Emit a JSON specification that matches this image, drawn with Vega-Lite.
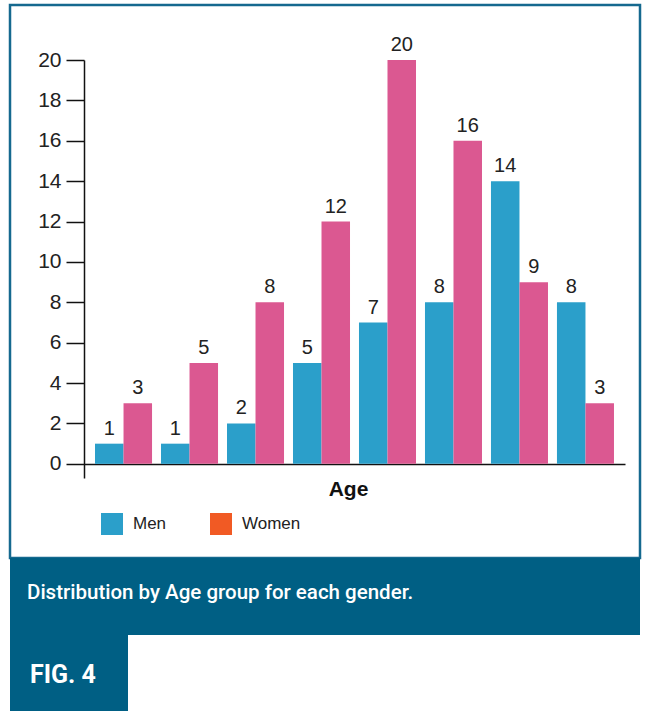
{
  "$schema": "https://vega.github.io/schema/vega-lite/v6.json",
  "background": "white",
  "padding": {"left": 8, "top": 3, "right": 5, "bottom": 0},
  "spacing": 0,
  "bounds": "flush",
  "resolve": {
    "scale": {"color": "independent", "fill": "independent"},
    "legend": {"color": "independent", "fill": "independent"}
  },
  "config": {
    "view": {"stroke": null},
    "font": "Liberation Sans, Arial, sans-serif"
  },
  "datasets": {
    "ages": [
      {"ageGroup": 1, "gender": "Men", "count": 1},
      {"ageGroup": 1, "gender": "Women", "count": 3},
      {"ageGroup": 2, "gender": "Men", "count": 1},
      {"ageGroup": 2, "gender": "Women", "count": 5},
      {"ageGroup": 3, "gender": "Men", "count": 2},
      {"ageGroup": 3, "gender": "Women", "count": 8},
      {"ageGroup": 4, "gender": "Men", "count": 5},
      {"ageGroup": 4, "gender": "Women", "count": 12},
      {"ageGroup": 5, "gender": "Men", "count": 7},
      {"ageGroup": 5, "gender": "Women", "count": 20},
      {"ageGroup": 6, "gender": "Men", "count": 8},
      {"ageGroup": 6, "gender": "Women", "count": 16},
      {"ageGroup": 7, "gender": "Men", "count": 14},
      {"ageGroup": 7, "gender": "Women", "count": 9},
      {"ageGroup": 8, "gender": "Men", "count": 8},
      {"ageGroup": 8, "gender": "Women", "count": 3}
    ]
  },
  "vconcat": [
    {
      "width": 630,
      "height": 553,
      "view": {"fill": "white", "stroke": "#15698f", "strokeWidth": 2.5},
      "data": {"name": "ages"},
      "encoding": {
        "x": {
          "field": "ageGroup",
          "type": "ordinal",
          "scale": {"range": [74, 615], "paddingInner": 0.136, "paddingOuter": 0.167},
          "axis": {
            "offset": -94,
            "labels": false,
            "ticks": false,
            "grid": false,
            "domainColor": "#111111",
            "domainWidth": 1.5,
            "title": "Age",
            "titleFont": "Liberation Sans, Arial, sans-serif",
            "titleFontSize": 21,
            "titleFontWeight": "bold",
            "titleColor": "#111111",
            "titlePadding": 14,
            "titleX": 338
          }
        },
        "xOffset": {
          "field": "gender",
          "type": "nominal",
          "scale": {"domain": ["Men", "Women"], "paddingInner": 0, "paddingOuter": 0}
        },
        "y": {
          "field": "count",
          "type": "quantitative",
          "scale": {"domain": [-0.7, 20], "range": [473, 55], "nice": false, "zero": false},
          "axis": {
            "values": [0, 2, 4, 6, 8, 10, 12, 14, 16, 18, 20],
            "offset": -74,
            "grid": false,
            "title": null,
            "tickSize": 18,
            "tickWidth": 1.5,
            "tickColor": "#111111",
            "domainColor": "#111111",
            "domainWidth": 1.5,
            "labelFontSize": 21,
            "labelColor": "#222222",
            "labelPadding": 5
          }
        }
      },
      "layer": [
        {
          "mark": {"type": "bar"},
          "encoding": {
            "fill": {
              "field": "gender",
              "type": "nominal",
              "scale": {"range": ["#2b9fca", "#db5891"]},
              "legend": null
            }
          }
        },
        {
          "mark": {"type": "text", "baseline": "alphabetic", "dy": -9, "fontSize": 20, "color": "#222222"},
          "encoding": {
            "text": {"field": "count", "type": "quantitative"}
          }
        },
        {
          "mark": {"type": "square", "opacity": 0},
          "encoding": {
            "color": {
              "field": "gender",
              "type": "nominal",
              "scale": {"domain": ["Men", "Women"], "range": ["#2b9fca", "#f15a24"]},
              "legend": {
                "orient": "none",
                "legendX": 91,
                "legendY": 508,
                "direction": "horizontal",
                "title": null,
                "padding": 0,
                "symbolType": "square",
                "symbolSize": 484,
                "symbolStrokeWidth": 0,
                "symbolOpacity": 1,
                "labelFontSize": 17,
                "labelColor": "#222222",
                "labelOffset": 10,
                "columnPadding": 43
              }
            }
          }
        }
      ]
    },
    {
      "width": 630,
      "height": 77,
      "data": {"values": [{}]},
      "mark": {"type": "rect", "color": "#005f84"},
      "encoding": {},
      "title": {
        "text": "Distribution by Age group for each gender.",
        "orient": "top",
        "anchor": "start",
        "frame": "group",
        "offset": -45,
        "dx": 17,
        "color": "white",
        "fontSize": 20.5,
        "fontWeight": 500,
        "font": "Roboto, Liberation Sans, sans-serif"
      }
    },
    {
      "width": 118,
      "height": 76,
      "data": {"values": [{}]},
      "mark": {"type": "rect", "color": "#005f84"},
      "encoding": {},
      "title": {
        "text": "FIG. 4",
        "orient": "top",
        "anchor": "start",
        "frame": "group",
        "offset": -53,
        "dx": 20,
        "color": "white",
        "fontSize": 25,
        "fontWeight": "bold",
        "font": "Roboto, Liberation Sans, sans-serif"
      }
    }
  ]
}
